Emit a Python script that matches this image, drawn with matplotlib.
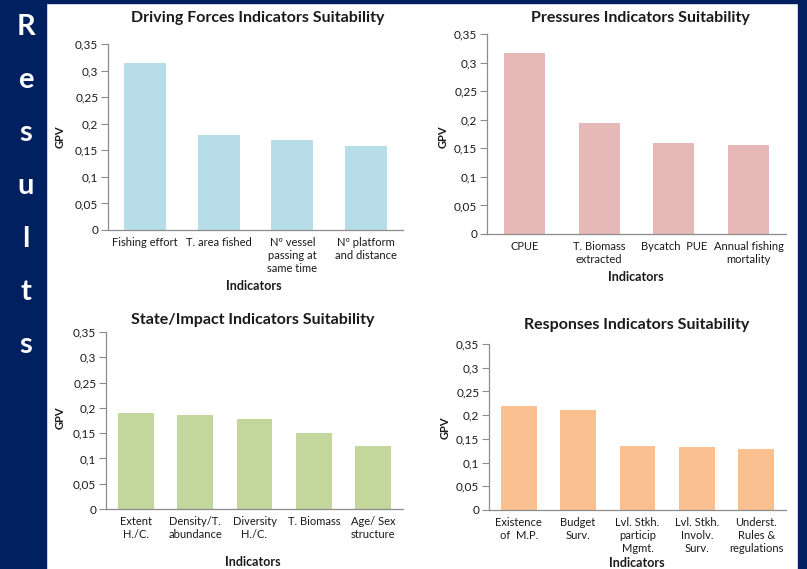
import matplotlib
matplotlib.use("Agg")
import matplotlib.pyplot as plt
from matplotlib.ticker import FuncFormatter

plt.rcParams['font.family'] = ['Lato', 'DejaVu Sans']

# data
driving_labels = ["Fishing effort", "T. area fished", "Nº vessel\npassing at\nsame time", "Nº platform\nand distance"]
driving_gpv = [0.315, 0.178, 0.170, 0.158]

pressure_labels = ["CPUE", "T. Biomass\nextracted", "Bycatch  PUE", "Annual fishing\nmortality"]
pressure_gpv = [0.316, 0.194, 0.160, 0.155]

state_labels = ["Extent\nH./C.", "Density/T.\nabundance", "Diversity\nH./C.", "T. Biomass", "Age/ Sex\nstructure"]
state_gpv = [0.189, 0.186, 0.178, 0.150, 0.125]

response_labels = ["Existence\nof  M.P.", "Budget\nSurv.", "Lvl. Stkh.\nparticip\nMgmt.", "Lvl. Stkh.\nInvolv.\nSurv.", "Underst.\nRules &\nregulations"]
response_gpv = [0.220, 0.211, 0.135, 0.133, 0.129]

y_ticks = [0, 0.05, 0.1, 0.15, 0.2, 0.25, 0.3, 0.35]

W, H = 807, 569
navy = "#00205f"
axis_grey = "#8c8c8c"
txt = "#1a1a1a"

fig = plt.figure(figsize=(W / 100, H / 100), dpi=100)
fig.patch.set_facecolor("white")

# slide frame
fig.patches.append(plt.Rectangle((0, 0), 46 / W, 1, transform=fig.transFigure, color=navy, zorder=0))
fig.patches.append(plt.Rectangle((0, 1 - 3 / H), 1, 3 / H, transform=fig.transFigure, color=navy, zorder=0))
fig.patches.append(plt.Rectangle((798 / W, 0), 9 / W, 1, transform=fig.transFigure, color=navy, zorder=0))

for i, ch in enumerate("Results"):
    fig.text(26 / W, 1 - (27 + i * 53) / H, ch, color="white", fontsize=21, fontweight="bold",
             ha="center", va="center")


def comma(v, pos):
    s = ("%.2f" % v).rstrip("0").rstrip(".")
    return s.replace(".", ",")


def panel(box, labels, values, color, title, title_xy, xlab_xy, ylab_xy, width):
    l, r, b, t = box
    ax = fig.add_axes([l / W, 1 - b / H, (r - l) / W, (b - t) / H])
    x = range(len(values))
    ax.bar(x, values, width=width, color=color, zorder=2)
    ax.set_xlim(-0.5, len(values) - 0.5)
    ax.set_ylim(0, 0.35)
    ax.set_yticks(y_ticks)
    ax.yaxis.set_major_formatter(FuncFormatter(comma))
    ax.set_xticks(list(x))
    ax.set_xticklabels(labels, fontsize=8, color=txt, linespacing=1.2, va="top")
    ax.tick_params(axis="x", length=0, pad=5)
    ax.tick_params(axis="y", length=5, width=0.8, color=axis_grey, labelsize=8.5, labelcolor=txt, pad=2)
    for s in ["top", "right"]:
        ax.spines[s].set_visible(False)
    for s in ["left", "bottom"]:
        ax.spines[s].set_color(axis_grey)
        ax.spines[s].set_linewidth(0.9)
    ax.set_facecolor("none")
    fig.text(title_xy[0] / W, 1 - title_xy[1] / H, title, fontsize=11.5, fontweight="bold",
             color=txt, ha="center", va="center")
    fig.text(xlab_xy[0] / W, 1 - xlab_xy[1] / H, "Indicators", fontsize=9, fontweight="bold",
             color=txt, ha="center", va="center")
    fig.text(ylab_xy[0] / W, 1 - ylab_xy[1] / H, "GPV", fontsize=8, fontweight="bold",
             color=txt, ha="center", va="center", rotation=90)
    return ax


panel((108, 403, 230, 44), driving_labels, driving_gpv, "#b7dde8",
      "Driving Forces Indicators Suitability", (258, 18), (254, 286), (60, 137), 0.57)
panel((487, 786, 234, 34), pressure_labels, pressure_gpv, "#e6b9b8",
      "Pressures Indicators Suitability", (640, 18), (636, 277), (443, 137), 0.55)
panel((106, 403, 509, 332), state_labels, state_gpv, "#c3d69b",
      "State/Impact Indicators Suitability", (253, 320), (253, 562), (60, 418), 0.6)
panel((489, 786, 510, 344), response_labels, response_gpv, "#fac090",
      "Responses Indicators Suitability", (637, 325), (637, 563), (445, 428), 0.6)

fig.savefig("out.png", dpi=100, facecolor=fig.get_facecolor())
